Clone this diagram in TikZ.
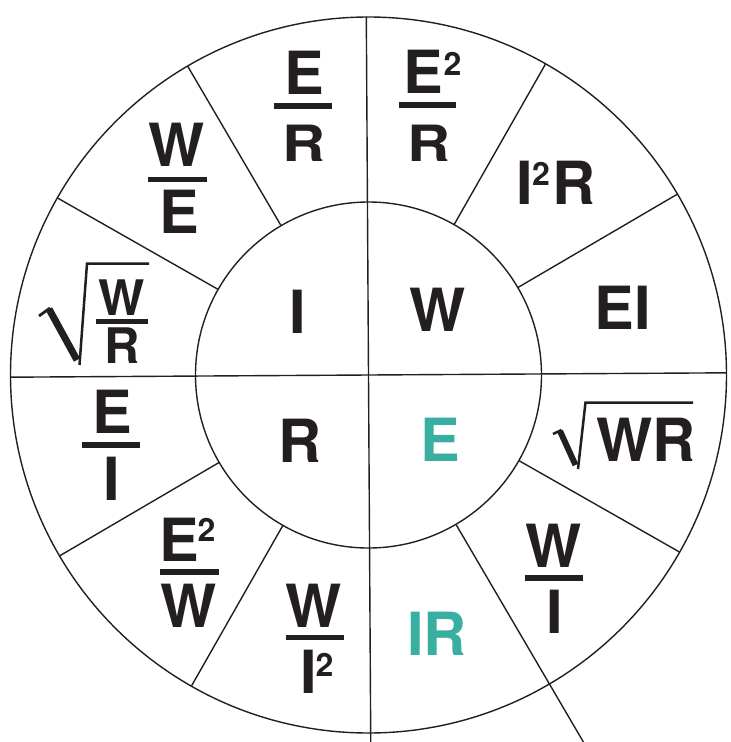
\documentclass[tikz,border=0pt]{standalone}
\usepackage{fontspec}
\setmainfont{TeX Gyre Heros}
\usetikzlibrary{calc}
\definecolor{ink}{RGB}{35,31,32}
\definecolor{ohmteal}{RGB}{57,175,162}
\begin{document}
\begin{tikzpicture}[x=1pt,y=-1pt,
  wire/.style={draw=ink,line width=1.4pt},
  big/.style={font=\fontsize{59.5}{60}\selectfont\bfseries,text=ink,inner sep=0pt,anchor=base},
  mid/.style={font=\fontsize{49}{50}\selectfont\bfseries,text=ink,inner sep=0pt,anchor=base},
  supr/.style={font=\fontsize{32}{32}\selectfont\bfseries,text=ink,inner sep=0pt,anchor=north west},
  barfill/.style={fill=ink}]
\useasboundingbox (0,0) rectangle (731,742);
\coordinate (C) at (368.5,375);
\def\dl{0.35}
% circles
\draw[wire] (C) circle[radius=358pt];
\draw[wire] (C) circle[radius=173pt];
% axes
\draw[wire] ($(C)+({-90-\dl}:358)$) -- ($(C)+({90-\dl}:367)$);
\draw[wire] ($(C)+({180-\dl}:358)$) -- ($(C)+({-\dl}:358)$);
% spokes (image angles, clockwise)
\foreach \a in {-30,-60,-120,-150,150,120,30}{
  \draw[wire] ($(C)+({\a-\dl}:173)$) -- ($(C)+({\a-\dl}:358)$);
}
\draw[wire] ($(C)+({60-\dl}:173)$) -- ($(C)+({60-\dl}:425.3)$);
% inner
\node[big] (nI) at (298,333) {I};
\node[big] (nW) at (437.7,331.5) {W};
\node[big] (nR) at (299.7,462) {R};
\node[big,text=ohmteal] (nE) at (440,461.3) {E};
% E/R
\node[big] (erE) at (304,94.3) {E};
\fill[barfill] (274,103.3) rectangle (332,109);
\node[big] (erR) at (304,161) {\scalebox{1}[0.84]{R}};
% E^2/R
\node[big] (e2rE) at (423.5,93.3) {E};
\node[supr] (e2r2) at (443.5,52.5) {2};
\fill[barfill] (398.7,101.7) rectangle (456.3,108.3);
\node[big] (e2rR) at (429,161) {\scalebox{1}[0.84]{R}};
% I^2R
\node[big] (i2rI) at (525,204) {I};
\node[supr] (i2r2) at (532,161.8) {2};
\node[big] (i2rR) at (574.2,204) {R};
% EI
\node[big] (ei) at (623,329.3) {EI};
% sqrt WR
\node[big] (swr) at (645.8,461.3) {WR};
\draw[ink,line width=2.5pt] (553,434) -- (561.5,430);
\draw[ink,line width=6pt] (560,431) -- (575.5,465);
\draw[ink,line width=2.5pt,line join=miter] (578,469) -- (585.5,402.5) -- (693,402.5);
% W/I
\node[big] (wiW) at (553.8,567) {W};
\fill[barfill] (524.7,574.7) rectangle (583,581.3);
\node[big] (wiI) at (554.7,633.7) {I};
% IR
\node[big,text=ohmteal] (ir) at (437,655.3) {IR};
% W/I^2
\node[big] (wi2W) at (313.7,627) {W};
\fill[barfill] (286,634.7) rectangle (344,640.3);
\node[big] (wi2I) at (308.7,693.7) {I};
\node[supr] (wi22) at (315.5,653.2) {2};
% E^2/W
\node[big] (e2wE) at (179,561) {E};
\node[supr] (e2w2) at (197.5,518) {2};
\fill[barfill] (160,569) rectangle (219,575);
\node[big] (e2wW) at (188.3,627.5) {W};
% E/I
\node[big] (eiE) at (112,433) {E};
\fill[barfill] (82.3,442) rectangle (140,448);
\node[big] (eiI) at (112,500.3) {I};
% sqrt W/R
\node[mid] (swrW) at (122,315) {W};
\fill[barfill] (96,319) rectangle (148,324);
\node[mid] (swrR) at (122.5,363) {R};
\draw[ink,line width=2.8pt] (39,316) -- (50,308);
\draw[ink,line width=7pt] (49,309) -- (77,360);
\draw[ink,line width=2.5pt,line join=miter] (79.5,365) -- (87,263.5) -- (149,263.5);
% W/E
\node[big] (weW) at (177,166.7) {W};
\fill[barfill] (147.7,176.7) rectangle (206.7,182.3);
\node[big] (weE) at (179,233.3) {E};
\end{tikzpicture}
\end{document}
